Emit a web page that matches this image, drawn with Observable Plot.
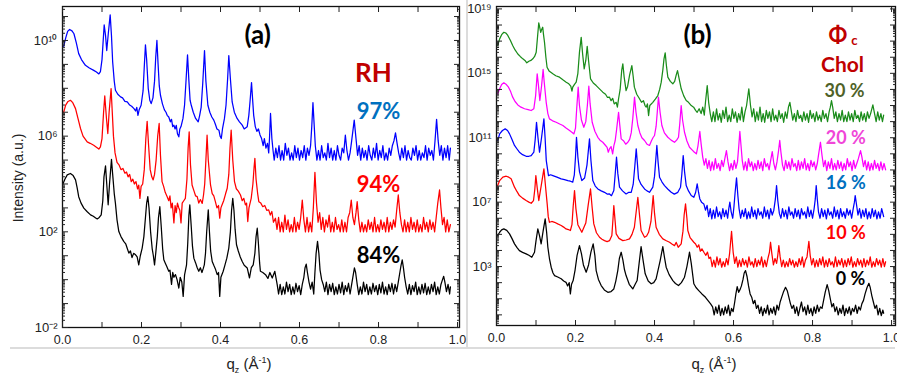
<!DOCTYPE html>
<html><head><meta charset="utf-8">
<script src="https://cdn.jsdelivr.net/npm/d3@7"></script>
<script src="https://cdn.jsdelivr.net/npm/@observablehq/plot@0.6"></script>
<style>
body{margin:0;background:#fff;}
#wrap{position:relative;width:897px;height:379px;overflow:hidden;font-family:"Liberation Sans",Arial,sans-serif;color:#222;}
.panel{position:absolute;top:0;}
.axt{position:absolute;font-size:15px;white-space:nowrap;transform:translate(-50%,-50%);}
.sep{position:absolute;background:#dcdcdc;}
</style></head><body>
<div id="wrap">
  <div class="sep" style="left:10px;top:347px;width:885px;height:1.5px"></div>
  <div class="sep" style="left:466px;top:0;width:1.5px;height:348px"></div>
  <div id="pa" class="panel" style="left:0;width:466px"></div>
  <div id="pb" class="panel" style="left:466px;width:431px"></div>
  <div class="axt" style="left:18px;top:178px;font-size:14px;transform:translate(-50%,-50%) rotate(-90deg)">Intensity (a.u.)</div>
  <div class="axt" style="left:249px;top:365px">q<sub style="font-size:9px">z</sub> (Å<sup style="font-size:9px">-1</sup>)</div>
  <div class="axt" style="left:714px;top:365px">q<sub style="font-size:9px">z</sub> (Å<sup style="font-size:9px">-1</sup>)</div>
</div>
<script>
// ---- tick values ----
const xTicks = [0,0.1,0.2,0.3,0.4,0.5,0.6,0.7,0.8,0.9,1.0];
const xLabels = [0,0.2,0.4,0.6,0.8,1.0];
const yLabelsA = [1e-2,1e2,1e6,1e10];
const yLabelsB = [1e3,1e7,1e11,1e15,1e19];

// ---- panel (a): RH series, flat [q, log10(I)] pairs ----
const a97 = [0.003,9.75,0.008,10.1,0.013,10.38,0.018,10.46,0.024,10.4,0.029,10.28,0.035,9.9,0.041,9.45,0.048,9.2,0.058,8.96,0.068,8.85,0.079,8.75,0.086,8.68,0.092,8.6,0.096,8.7,0.1,9.2,0.1055,10.65,0.109,10.2,0.112,9.58,0.116,10.3,0.1207,11.07,0.124,10.2,0.127,9.1,0.131,8.3,0.134,7.92,0.14,7.75,0.147,7.64,0.152,7.6,0.158,7.45,0.164,7.43,0.17,7.3,0.175,7.25,0.181,7.15,0.185,7.05,0.188,7.2,0.191,6.87,0.194,7.1,0.199,7.29,0.204,7.9,0.207,8.9,0.21,9.82,0.213,9.2,0.217,8.0,0.221,7.5,0.2245,7.36,0.229,7.6,0.233,8.3,0.236,9.3,0.239,10.0,0.242,9.0,0.245,8.1,0.248,7.71,0.253,7.35,0.258,7.1,0.262,7.0,0.265,6.87,0.269,6.8,0.273,6.6,0.276,6.7,0.279,6.4,0.282,6.46,0.285,6.3,0.288,6.45,0.291,6.1,0.2945,5.97,0.297,6.3,0.3,6.4,0.305,6.74,0.309,7.3,0.313,8.4,0.3165,9.4,0.32,8.3,0.323,7.5,0.326,7.29,0.331,7.0,0.337,6.74,0.3435,6.6,0.347,6.85,0.351,7.2,0.355,8.2,0.3595,9.58,0.363,8.3,0.368,7.29,0.373,7.0,0.378,6.8,0.383,6.67,0.387,6.5,0.391,6.3,0.396,6.25,0.399,6.0,0.402,5.9,0.405,6.3,0.41,6.74,0.414,7.3,0.418,8.4,0.421,9.37,0.425,8.4,0.4295,7.43,0.435,7.0,0.442,6.74,0.448,6.6,0.455,6.46,0.46,6.3,0.4675,6.39,0.4717,6.87,0.475,7.5,0.4785,8.24,0.481,7.6,0.484,6.87,0.488,6.4,0.492,6.2,0.496,6.3,0.5,6.05,0.504,5.9,0.508,5.6,0.511,5.9,0.515,5.5,0.519,5.7,0.522,5.3,0.524,5.9,0.5266,6.95,0.53,5.9,0.533,5.4,0.536,5.0,0.54,5.5,0.544,5.1,0.548,5.6,0.552,5.0,0.556,5.4,0.56,5.0,0.564,5.7,0.568,5.2,0.572,5.5,0.576,5.0,0.58,5.3,0.584,5.0,0.588,5.6,0.592,5.1,0.596,5.5,0.6,5.0,0.604,5.4,0.608,5.1,0.612,5.6,0.616,5.0,0.62,5.5,0.624,5.2,0.628,5.6,0.631,6.4,0.634,7.4,0.637,6.5,0.64,5.6,0.644,5.0,0.648,5.4,0.652,5.0,0.656,5.6,0.66,5.1,0.664,5.3,0.668,5.0,0.672,5.7,0.676,5.1,0.68,5.5,0.684,5.0,0.688,5.4,0.692,5.0,0.696,5.6,0.7,5.2,0.704,5.0,0.708,5.5,0.712,5.3,0.716,6.04,0.72,5.4,0.724,5.0,0.728,5.3,0.732,5.8,0.7385,6.67,0.743,5.9,0.747,5.2,0.751,5.6,0.755,5.0,0.759,5.5,0.763,5.1,0.767,5.4,0.771,5.0,0.775,5.6,0.779,5.2,0.783,5.0,0.787,5.5,0.791,5.1,0.795,5.7,0.799,5.0,0.803,5.4,0.807,5.1,0.811,5.6,0.815,5.0,0.819,5.3,0.823,5.0,0.827,5.5,0.831,5.2,0.835,5.6,0.839,5.8,0.843,6.14,0.847,5.7,0.851,5.3,0.855,5.0,0.859,5.5,0.863,5.1,0.867,5.6,0.871,5.0,0.875,5.4,0.879,5.1,0.883,5.0,0.887,5.5,0.891,5.2,0.895,5.6,0.899,5.0,0.903,5.4,0.907,5.0,0.911,5.3,0.915,5.1,0.919,5.6,0.923,5.0,0.927,5.5,0.931,5.2,0.935,5.4,0.939,5.0,0.943,5.8,0.947,6.7,0.951,5.8,0.955,5.2,0.959,5.6,0.963,5.0,0.967,5.5,0.971,5.1,0.975,5.6,0.979,5.0,0.982,5.5];

const a94 = [0.003,7.0,0.008,7.3,0.014,7.45,0.02,7.5,0.026,7.4,0.033,7.15,0.039,6.75,0.0456,6.32,0.052,6.0,0.0625,5.76,0.07,5.7,0.079,5.62,0.085,5.55,0.092,5.46,0.096,5.55,0.1,5.9,0.104,7.0,0.107,7.68,0.111,6.8,0.1147,6.11,0.118,7.0,0.123,7.99,0.126,7.0,0.129,6.0,0.133,5.3,0.138,4.9,0.143,4.8,0.148,4.6,0.153,4.65,0.158,4.45,0.162,4.5,0.166,4.3,0.17,4.4,0.174,4.1,0.178,4.2,0.182,4.0,0.186,4.1,0.19,3.8,0.193,3.95,0.196,3.4,0.199,3.9,0.203,4.0,0.207,4.6,0.211,5.9,0.2143,6.62,0.218,5.6,0.222,4.6,0.226,4.3,0.2295,4.17,0.233,4.4,0.237,5.0,0.241,6.0,0.2447,6.53,0.248,5.2,0.252,4.1,0.256,3.9,0.26,3.65,0.265,3.47,0.269,3.3,0.272,3.5,0.275,3.0,0.278,3.2,0.282,2.37,0.285,3.1,0.288,2.8,0.291,3.2,0.2945,3.0,0.297,2.9,0.3,2.37,0.303,3.2,0.307,3.3,0.311,3.4,0.315,4.2,0.318,5.5,0.3207,6.18,0.324,4.8,0.328,3.96,0.333,3.7,0.337,3.5,0.341,3.47,0.345,3.2,0.349,3.35,0.3537,3.19,0.357,3.54,0.36,4.0,0.363,5.0,0.366,6.04,0.369,5.0,0.3747,3.96,0.379,3.6,0.383,3.5,0.387,3.26,0.391,3.0,0.395,3.1,0.398,2.57,0.401,3.0,0.404,3.13,0.408,3.3,0.413,3.6,0.417,3.82,0.421,4.4,0.424,5.5,0.427,6.25,0.431,5.0,0.4354,4.1,0.44,3.8,0.445,3.7,0.4506,3.54,0.455,3.3,0.459,3.4,0.463,3.13,0.466,3.2,0.469,2.43,0.472,3.0,0.4777,3.4,0.482,4.0,0.485,4.7,0.487,5.07,0.49,4.2,0.494,3.6,0.497,3.26,0.502,3.2,0.507,3.05,0.512,3.1,0.517,2.9,0.522,2.92,0.526,2.7,0.53,2.85,0.534,2.4,0.539,2.57,0.543,2.1,0.547,2.6,0.551,2.0,0.555,2.4,0.559,2.0,0.563,2.7,0.567,2.1,0.571,2.5,0.575,2.0,0.579,2.3,0.583,2.0,0.587,2.6,0.591,2.0,0.595,2.4,0.599,2.1,0.603,2.6,0.607,3.33,0.611,2.5,0.615,2.0,0.619,2.6,0.623,2.0,0.627,2.4,0.631,2.0,0.635,3.0,0.639,4.49,0.643,3.2,0.647,2.4,0.651,2.8,0.655,2.1,0.659,2.6,0.663,2.0,0.667,2.5,0.671,2.2,0.675,2.7,0.679,2.0,0.683,2.4,0.687,2.0,0.691,2.6,0.695,2.1,0.699,2.3,0.703,2.0,0.707,2.5,0.711,2.0,0.715,2.4,0.719,2.0,0.723,2.6,0.727,2.8,0.731,3.33,0.735,2.6,0.739,2.3,0.743,2.8,0.746,3.26,0.75,2.5,0.754,2.0,0.758,2.4,0.762,2.0,0.766,2.3,0.77,2.0,0.774,2.5,0.778,2.1,0.782,2.4,0.786,2.0,0.79,2.6,0.794,2.0,0.798,2.3,0.802,2.0,0.806,2.5,0.81,2.1,0.814,2.4,0.818,2.0,0.822,2.6,0.826,2.0,0.83,2.4,0.834,2.1,0.838,2.5,0.842,2.2,0.846,2.9,0.85,3.54,0.854,2.8,0.858,2.3,0.862,2.0,0.866,2.5,0.87,2.0,0.874,2.4,0.878,2.0,0.882,2.6,0.886,2.1,0.89,2.4,0.894,2.0,0.898,2.5,0.902,2.0,0.906,2.3,0.91,2.0,0.914,2.6,0.918,2.1,0.922,2.4,0.926,2.0,0.93,2.5,0.934,2.1,0.938,2.4,0.942,2.0,0.946,2.6,0.95,3.2,0.9545,3.75,0.958,3.0,0.962,2.3,0.966,2.6,0.97,2.0,0.974,2.5,0.978,2.0,0.982,2.3];

const a84 = [0.0,3.96,0.006,4.2,0.012,4.38,0.02,4.44,0.027,4.35,0.033,4.17,0.037,3.85,0.041,3.47,0.047,3.2,0.054,2.99,0.062,2.85,0.071,2.71,0.078,2.65,0.084,2.58,0.088,2.54,0.093,2.6,0.098,2.71,0.102,3.3,0.105,4.3,0.1089,4.76,0.112,4.0,0.1156,3.13,0.119,4.0,0.124,5.03,0.127,4.4,0.131,3.6,0.134,3.19,0.138,2.5,0.1426,2.01,0.148,1.8,0.155,1.6,0.16,1.5,0.164,1.3,0.168,1.11,0.172,1.2,0.176,0.92,0.18,1.1,0.185,1.04,0.189,0.95,0.193,0.62,0.197,1.0,0.2017,1.32,0.206,1.8,0.21,2.6,0.213,3.2,0.216,3.47,0.219,3.0,0.223,2.0,0.227,1.3,0.23,1.0,0.233,0.62,0.236,1.1,0.24,1.8,0.243,2.6,0.2464,3.05,0.25,2.2,0.2535,1.3,0.2565,0.83,0.26,0.7,0.264,0.55,0.269,0.35,0.272,0.4,0.276,-0.2,0.279,0.3,0.282,0.1,0.286,0.21,0.29,0.0,0.2945,-0.35,0.298,0.1,0.302,-0.1,0.3055,-0.7,0.309,0.2,0.314,0.62,0.317,1.5,0.32,2.7,0.3223,3.13,0.326,2.2,0.329,1.4,0.3325,0.9,0.337,0.7,0.341,0.5,0.345,0.35,0.349,0.5,0.353,0.3,0.356,0.45,0.359,0.62,0.362,1.1,0.365,2.0,0.369,2.92,0.372,2.0,0.375,1.2,0.379,0.76,0.383,0.6,0.387,0.45,0.3916,0.21,0.395,0.3,0.398,-0.7,0.401,0.1,0.4068,0.35,0.411,0.6,0.416,0.9,0.421,1.32,0.425,2.0,0.428,2.9,0.431,3.4,0.434,2.9,0.437,2.1,0.4405,1.46,0.445,1.2,0.45,0.95,0.455,0.76,0.46,0.6,0.4676,0.49,0.4734,0.07,0.478,0.5,0.4828,0.62,0.487,1.1,0.49,1.8,0.493,2.15,0.496,1.5,0.499,0.7,0.501,0.35,0.507,0.3,0.514,0.21,0.52,0.05,0.525,0.3,0.531,0.07,0.5375,0.35,0.5435,-0.21,0.547,-0.6,0.551,-0.2,0.555,-0.63,0.559,-0.3,0.563,-0.6,0.567,-0.1,0.571,-0.5,0.575,-0.2,0.579,-0.63,0.583,-0.3,0.587,-0.6,0.591,-0.15,0.595,-0.5,0.599,-0.25,0.603,-0.63,0.607,-0.2,0.611,0.1,0.614,0.5,0.617,0.65,0.62,0.3,0.624,-0.1,0.628,-0.4,0.632,-0.1,0.636,-0.6,0.639,0.3,0.642,1.1,0.6456,1.6,0.649,1.1,0.652,0.4,0.656,0.0,0.66,-0.2,0.664,-0.5,0.668,-0.1,0.672,-0.63,0.676,-0.2,0.68,-0.5,0.684,-0.15,0.688,-0.63,0.692,-0.3,0.696,-0.6,0.7,-0.2,0.704,-0.55,0.708,-0.1,0.712,-0.63,0.716,-0.25,0.72,-0.5,0.724,-0.15,0.728,-0.6,0.732,-0.2,0.736,0.2,0.739,0.49,0.742,0.3,0.746,-0.2,0.75,-0.63,0.754,-0.3,0.758,-0.6,0.762,-0.1,0.766,-0.5,0.77,-0.2,0.774,-0.63,0.778,-0.3,0.782,-0.6,0.786,-0.15,0.79,-0.5,0.794,-0.25,0.798,-0.63,0.802,-0.2,0.806,-0.55,0.81,-0.1,0.814,-0.6,0.818,-0.3,0.822,-0.63,0.826,-0.2,0.83,-0.5,0.834,-0.15,0.838,-0.6,0.842,-0.2,0.846,-0.5,0.85,-0.1,0.854,0.3,0.857,0.6,0.86,0.83,0.863,0.5,0.866,0.1,0.87,-0.3,0.874,-0.6,0.878,-0.2,0.882,-0.63,0.886,-0.25,0.89,-0.5,0.894,-0.1,0.898,-0.63,0.902,-0.3,0.906,-0.6,0.91,-0.2,0.914,-0.55,0.918,-0.15,0.922,-0.63,0.926,-0.3,0.93,-0.6,0.934,-0.2,0.938,-0.5,0.942,-0.1,0.946,-0.63,0.95,-0.3,0.954,-0.6,0.958,-0.2,0.962,0.0,0.965,0.14,0.968,-0.1,0.972,-0.5,0.976,-0.2,0.98,-0.6,0.982,-0.3];

// ---- panel (b): cholesterol series ----
const b30 = [0.003,16.73,0.008,17.14,0.013,17.4,0.0185,17.55,0.024,17.5,0.0286,17.35,0.035,17.05,0.041,16.73,0.047,16.45,0.054,16.2,0.06,16.05,0.0666,15.9,0.072,15.8,0.0767,15.65,0.082,15.75,0.087,15.8,0.0919,15.9,0.0965,16.05,0.1005,16.31,0.104,17.3,0.107,18.14,0.109,17.9,0.112,17.55,0.114,17.7,0.117,17.86,0.119,17.4,0.1215,16.93,0.125,16.0,0.128,15.38,0.133,15.15,0.1426,14.97,0.15,14.85,0.1595,14.76,0.168,14.6,0.1764,14.45,0.183,14.35,0.188,14.2,0.191,13.9,0.193,14.14,0.197,14.3,0.2017,14.45,0.206,15.0,0.21,16.3,0.2144,17.24,0.218,16.2,0.222,15.28,0.226,15.8,0.2296,16.68,0.233,15.8,0.238,14.66,0.245,14.4,0.2524,14.24,0.26,14.05,0.269,13.83,0.276,13.7,0.281,13.5,0.286,13.52,0.29,13.3,0.294,13.45,0.298,13.1,0.303,13.2,0.306,12.9,0.309,13.42,0.313,14.0,0.317,15.2,0.3198,15.59,0.323,14.8,0.328,13.93,0.332,14.2,0.337,14.9,0.3426,15.48,0.346,14.8,0.349,14.14,0.355,13.7,0.362,13.42,0.367,13.2,0.372,13.3,0.376,13.0,0.379,12.9,0.382,13.1,0.385,12.38,0.388,13.0,0.3957,13.2,0.402,13.4,0.4084,13.62,0.413,14.0,0.417,14.45,0.421,15.2,0.424,15.9,0.427,16.27,0.43,15.5,0.4337,14.76,0.44,14.5,0.4463,14.35,0.451,14.5,0.455,14.9,0.4582,15.17,0.462,14.7,0.4676,14.04,0.474,13.6,0.4802,13.31,0.486,13.2,0.493,13.0,0.499,12.9,0.504,12.7,0.508,12.58,0.513,12.8,0.518,12.5,0.522,12.9,0.526,12.4,0.529,13.2,0.5334,14.24,0.537,13.2,0.541,12.5,0.545,12.0,0.549,12.6,0.553,12.0,0.557,12.8,0.561,12.1,0.565,12.5,0.569,11.96,0.573,12.7,0.577,12.2,0.581,12.9,0.585,12.0,0.589,12.4,0.593,12.0,0.597,12.8,0.601,12.2,0.605,12.6,0.609,11.96,0.613,12.5,0.617,12.1,0.621,12.9,0.625,12.0,0.629,12.6,0.633,13.0,0.6387,14.04,0.643,13.0,0.647,12.3,0.651,12.8,0.655,12.0,0.659,12.6,0.663,12.1,0.667,12.9,0.671,12.0,0.675,12.5,0.679,11.96,0.683,12.7,0.687,12.2,0.691,12.6,0.695,12.0,0.699,12.8,0.703,12.1,0.707,12.4,0.711,12.0,0.715,12.7,0.719,12.2,0.723,12.5,0.727,11.96,0.731,12.6,0.735,12.2,0.739,12.9,0.7426,13.2,0.746,12.7,0.75,12.1,0.754,12.5,0.758,12.0,0.762,12.7,0.766,12.2,0.77,12.4,0.774,12.0,0.778,12.6,0.782,12.1,0.786,12.5,0.79,11.96,0.794,12.7,0.798,12.2,0.802,12.5,0.806,12.0,0.81,12.6,0.814,12.1,0.818,12.4,0.822,12.0,0.826,12.7,0.83,12.2,0.834,12.5,0.838,12.0,0.842,12.6,0.845,12.9,0.848,13.31,0.851,12.9,0.855,12.2,0.859,12.6,0.863,12.0,0.867,12.5,0.871,12.1,0.875,12.7,0.879,12.0,0.883,12.4,0.887,12.0,0.891,12.6,0.895,12.1,0.899,12.5,0.903,12.0,0.907,12.7,0.911,12.2,0.915,12.4,0.919,12.0,0.923,12.6,0.927,12.1,0.931,12.5,0.935,12.0,0.939,12.6,0.943,12.2,0.947,12.5,0.9527,13.04,0.957,12.5,0.961,12.0,0.965,12.6,0.969,12.1,0.973,12.5,0.977,12.0,0.98,12.4];

const b20 = [0.003,13.73,0.008,14.04,0.013,14.3,0.0185,14.41,0.025,14.3,0.0304,14.14,0.036,13.85,0.041,13.52,0.047,13.25,0.054,13.04,0.062,12.9,0.071,12.8,0.08,12.75,0.0878,12.69,0.0945,12.8,0.099,13.6,0.103,14.97,0.106,14.3,0.1097,13.31,0.114,14.2,0.118,15.24,0.121,14.4,0.1258,13.2,0.13,12.5,0.134,12.17,0.142,12.05,0.151,11.96,0.16,11.85,0.168,11.76,0.176,11.6,0.185,11.45,0.19,11.35,0.196,11.24,0.2,11.6,0.203,12.8,0.2068,14.14,0.21,13.0,0.215,12.1,0.221,11.65,0.226,12.0,0.23,13.0,0.2337,14.2,0.237,13.1,0.2422,11.96,0.249,11.4,0.2565,11.03,0.262,10.85,0.269,10.72,0.275,10.55,0.28,10.4,0.283,10.1,0.286,10.31,0.29,10.45,0.294,10.0,0.297,10.5,0.3005,10.83,0.304,11.5,0.309,12.58,0.312,11.8,0.3156,10.93,0.322,10.8,0.327,10.6,0.3325,10.72,0.337,10.9,0.341,11.3,0.345,12.2,0.3494,13.52,0.353,12.6,0.3578,11.76,0.363,11.3,0.368,11.0,0.3747,10.83,0.381,10.6,0.3873,10.52,0.392,10.8,0.396,11.0,0.4,11.14,0.404,11.7,0.407,12.6,0.41,13.52,0.414,12.6,0.4186,11.76,0.425,11.3,0.4337,11.03,0.442,10.85,0.4506,10.72,0.456,10.85,0.4607,11.03,0.464,11.9,0.4675,13.0,0.471,12.1,0.4759,11.34,0.482,10.8,0.4886,10.41,0.495,10.25,0.501,10.1,0.506,10.0,0.51,10.5,0.5147,11.39,0.518,10.6,0.522,9.8,0.526,9.3,0.53,9.7,0.534,9.1,0.538,9.6,0.542,8.96,0.546,9.5,0.55,9.0,0.554,9.7,0.558,9.1,0.562,9.4,0.566,8.96,0.57,9.6,0.574,9.2,0.578,9.7,0.582,10.2,0.586,9.5,0.59,8.96,0.594,9.4,0.598,9.0,0.602,9.6,0.606,9.1,0.61,9.5,0.613,10.4,0.616,11.39,0.619,10.5,0.622,9.6,0.626,9.0,0.63,9.5,0.634,8.96,0.638,9.7,0.642,9.2,0.646,9.5,0.65,8.96,0.654,9.4,0.658,9.0,0.662,9.6,0.666,9.1,0.67,9.5,0.674,8.96,0.678,9.7,0.682,9.2,0.686,9.4,0.69,9.0,0.694,9.6,0.698,10.14,0.702,9.4,0.706,9.0,0.71,9.5,0.714,10.2,0.717,10.83,0.72,10.1,0.724,9.3,0.728,8.96,0.732,9.6,0.736,9.1,0.74,9.5,0.744,9.0,0.748,9.7,0.752,9.2,0.756,9.4,0.76,8.96,0.764,9.6,0.768,9.0,0.772,9.5,0.776,9.1,0.78,9.7,0.784,9.0,0.788,9.4,0.792,8.96,0.796,9.6,0.8,9.2,0.804,9.5,0.808,9.0,0.812,9.4,0.815,9.9,0.82,10.72,0.824,9.9,0.828,9.2,0.832,9.6,0.836,8.96,0.84,9.5,0.844,9.1,0.848,9.7,0.852,9.0,0.856,9.4,0.86,9.0,0.864,9.6,0.868,9.1,0.872,9.5,0.876,8.96,0.88,9.4,0.884,9.0,0.888,9.7,0.892,9.2,0.896,9.5,0.9,8.96,0.904,9.6,0.908,9.1,0.912,9.4,0.916,9.7,0.9215,10.2,0.925,9.8,0.929,9.2,0.933,9.6,0.937,9.0,0.941,9.5,0.945,8.96,0.949,9.4,0.953,9.0,0.957,9.6,0.961,9.1,0.965,9.4,0.969,8.96,0.973,9.5,0.977,9.0,0.981,9.4,0.985,9.0];

const b16 = [0.003,10.83,0.008,11.24,0.015,11.45,0.022,11.55,0.028,11.45,0.033,11.24,0.039,10.9,0.0456,10.52,0.052,10.3,0.058,10.1,0.066,9.95,0.075,9.85,0.082,9.85,0.0878,9.89,0.0945,10.1,0.098,10.9,0.1013,11.96,0.105,11.0,0.1089,10.1,0.114,11.0,0.12,12.17,0.123,11.0,0.126,9.58,0.1316,8.65,0.137,8.7,0.1426,8.65,0.153,8.55,0.1637,8.45,0.172,8.4,0.1806,8.34,0.187,8.3,0.193,8.24,0.197,8.7,0.2,9.8,0.2025,11.03,0.206,9.8,0.21,8.9,0.216,8.34,0.223,8.5,0.229,9.3,0.2354,10.93,0.239,9.6,0.2438,8.34,0.25,8.0,0.2565,7.82,0.265,7.7,0.2734,7.61,0.28,7.5,0.286,7.51,0.291,7.4,0.297,7.72,0.3,8.6,0.3038,9.79,0.307,8.8,0.3114,7.93,0.319,7.7,0.328,7.51,0.334,7.6,0.341,7.61,0.346,8.1,0.35,9.2,0.3537,10.31,0.357,9.3,0.3595,8.45,0.366,8.1,0.3747,7.82,0.381,7.7,0.3873,7.61,0.3957,7.93,0.4,8.6,0.4059,10.52,0.409,9.5,0.4127,8.55,0.419,8.25,0.4253,8.03,0.434,7.8,0.4423,7.61,0.45,7.5,0.459,7.61,0.4658,7.93,0.469,8.7,0.4726,9.89,0.476,8.9,0.4802,8.03,0.486,7.7,0.4929,7.41,0.4995,7.3,0.504,7.6,0.508,8.14,0.5115,7.6,0.5147,7.2,0.519,7.0,0.5248,6.89,0.529,6.5,0.533,6.8,0.537,6.1,0.541,6.6,0.545,5.96,0.549,6.5,0.553,6.0,0.557,6.7,0.561,6.1,0.565,6.4,0.569,5.96,0.573,6.6,0.577,6.1,0.581,6.5,0.585,6.0,0.588,6.6,0.5907,7.0,0.594,6.4,0.598,6.0,0.601,6.7,0.604,7.6,0.6076,8.51,0.611,7.4,0.614,6.6,0.618,6.0,0.622,6.5,0.626,6.1,0.63,6.6,0.634,5.96,0.638,6.4,0.642,6.0,0.646,6.7,0.65,6.1,0.654,6.5,0.658,5.96,0.662,6.6,0.666,6.2,0.67,6.4,0.674,6.0,0.678,6.7,0.682,6.1,0.686,6.5,0.69,5.96,0.694,6.6,0.698,6.2,0.702,6.5,0.706,7.2,0.7089,8.03,0.712,7.1,0.716,6.3,0.72,6.0,0.724,6.6,0.728,6.1,0.732,6.5,0.736,5.96,0.74,6.7,0.744,6.2,0.748,6.4,0.752,6.0,0.756,6.6,0.76,6.1,0.764,6.5,0.768,5.96,0.772,6.6,0.776,6.2,0.78,6.4,0.784,6.0,0.788,6.7,0.792,6.1,0.796,6.5,0.8,6.0,0.804,6.6,0.807,7.2,0.8093,8.03,0.812,7.2,0.815,6.4,0.819,6.0,0.823,6.6,0.827,6.1,0.831,6.5,0.835,5.96,0.839,6.6,0.843,6.2,0.847,6.4,0.851,6.0,0.855,6.7,0.859,6.1,0.863,6.5,0.867,5.96,0.871,6.6,0.875,6.1,0.879,6.4,0.883,6.0,0.887,6.6,0.891,6.2,0.895,6.5,0.899,6.0,0.903,6.6,0.906,7.0,0.908,7.41,0.911,6.9,0.915,6.2,0.919,6.6,0.923,6.0,0.927,6.5,0.931,6.1,0.935,6.6,0.939,5.96,0.943,6.4,0.947,6.0,0.951,6.6,0.955,6.1,0.959,6.5,0.963,5.96,0.967,6.4,0.971,6.0,0.975,6.6,0.98,6.1];

const b10 = [0.003,8.03,0.008,8.34,0.016,8.55,0.0245,8.61,0.031,8.55,0.037,8.45,0.041,8.2,0.0456,7.93,0.052,7.65,0.058,7.41,0.066,7.25,0.075,7.1,0.082,7.0,0.0878,6.93,0.0937,7.1,0.097,7.8,0.0996,8.65,0.103,7.9,0.107,7.1,0.113,8.0,0.12,9.07,0.124,8.0,0.1283,6.89,0.131,6.1,0.134,5.75,0.14,5.8,0.147,5.75,0.155,5.65,0.1637,5.55,0.17,5.45,0.176,5.34,0.182,5.3,0.187,5.24,0.191,5.6,0.194,6.7,0.1975,7.72,0.201,6.6,0.206,5.6,0.216,5.13,0.226,5.7,0.232,6.8,0.238,7.82,0.242,6.7,0.2463,5.65,0.253,5.1,0.2608,4.82,0.267,4.7,0.2734,4.61,0.28,4.55,0.286,4.61,0.292,4.93,0.295,6.0,0.297,6.79,0.3,5.9,0.303,5.03,0.31,4.75,0.3198,4.61,0.328,4.65,0.3367,4.72,0.343,5.0,0.349,5.44,0.354,6.5,0.3578,7.3,0.362,6.2,0.366,5.24,0.3747,4.82,0.38,4.9,0.385,5.13,0.391,5.8,0.3966,7.41,0.4,6.3,0.404,5.44,0.412,5.0,0.421,4.72,0.43,4.6,0.438,4.51,0.444,4.4,0.4506,4.3,0.455,4.5,0.46,4.2,0.4675,4.41,0.472,5.2,0.475,6.2,0.4785,6.89,0.482,6.0,0.4843,5.24,0.49,4.8,0.4995,4.51,0.504,4.4,0.508,4.2,0.512,4.35,0.516,3.95,0.52,4.1,0.525,3.89,0.53,3.7,0.534,3.9,0.538,3.5,0.5418,3.58,0.546,3.0,0.55,3.4,0.554,2.96,0.558,3.6,0.562,3.1,0.566,3.5,0.57,2.96,0.574,3.3,0.578,3.0,0.582,3.5,0.586,3.1,0.59,3.8,0.595,5.19,0.599,3.9,0.603,3.2,0.607,3.6,0.611,2.96,0.615,3.4,0.619,3.0,0.623,3.5,0.627,3.1,0.631,3.4,0.635,2.96,0.639,3.6,0.643,3.1,0.647,3.3,0.651,2.96,0.655,3.5,0.659,3.0,0.663,3.4,0.667,3.1,0.671,3.6,0.675,2.96,0.679,3.4,0.683,3.0,0.687,3.5,0.691,3.9,0.6937,4.51,0.697,3.8,0.701,3.1,0.705,3.5,0.709,3.2,0.712,3.7,0.7147,4.3,0.718,3.6,0.722,3.0,0.726,3.4,0.73,2.96,0.734,3.3,0.738,3.0,0.742,3.5,0.746,3.1,0.75,3.4,0.754,2.96,0.758,3.3,0.762,3.0,0.766,3.5,0.77,3.1,0.774,3.6,0.778,2.96,0.782,3.4,0.786,3.6,0.7907,4.57,0.794,3.7,0.798,3.1,0.802,3.5,0.806,2.96,0.81,3.4,0.814,3.0,0.818,3.5,0.822,3.1,0.826,3.6,0.83,2.96,0.834,3.4,0.838,3.0,0.842,3.5,0.846,3.1,0.85,3.3,0.854,2.96,0.858,3.6,0.862,3.0,0.866,3.4,0.87,3.1,0.874,3.5,0.878,2.96,0.882,3.4,0.886,3.0,0.89,3.5,0.894,3.1,0.898,3.6,0.902,2.96,0.906,3.3,0.91,3.0,0.914,3.5,0.918,3.1,0.922,3.4,0.926,2.96,0.93,3.5,0.934,3.0,0.938,3.4,0.942,3.1,0.946,3.6,0.95,2.96,0.954,3.3,0.958,3.0,0.962,3.5,0.966,3.1,0.97,3.4,0.974,2.96,0.978,3.5,0.982,3.0,0.985,3.3];

const b0 = [0.003,4.93,0.008,5.13,0.013,5.28,0.0185,5.34,0.026,5.25,0.033,5.03,0.039,4.75,0.0456,4.41,0.052,4.18,0.058,3.99,0.066,3.88,0.075,3.79,0.082,3.7,0.0894,3.58,0.0962,3.89,0.1,4.6,0.1046,5.34,0.109,4.9,0.113,4.41,0.118,5.2,0.1232,5.96,0.127,5.1,0.13,4.2,0.134,3.5,0.1384,2.96,0.143,2.6,0.147,2.44,0.155,2.35,0.1637,2.24,0.17,2.1,0.176,2.02,0.18,1.8,0.184,2.0,0.187,1.3,0.19,1.9,0.194,2.13,0.199,2.8,0.204,3.7,0.21,4.3,0.215,3.8,0.22,3.1,0.227,2.65,0.233,3.1,0.239,3.9,0.2447,4.41,0.249,3.7,0.2523,2.75,0.258,2.2,0.265,1.82,0.273,1.55,0.2818,1.4,0.29,1.45,0.297,1.61,0.302,2.1,0.307,2.75,0.311,3.5,0.3156,3.89,0.32,3.4,0.324,2.8,0.328,2.44,0.336,1.9,0.345,1.61,0.351,1.9,0.356,2.13,0.361,3.2,0.366,4.24,0.371,3.4,0.3764,2.55,0.384,2.1,0.3916,1.93,0.398,2.0,0.404,2.24,0.4143,3.37,0.421,4.24,0.425,3.6,0.4295,2.96,0.437,2.5,0.4464,2.13,0.453,1.95,0.4607,1.82,0.468,2.0,0.4759,2.34,0.482,3.0,0.4886,3.89,0.493,3.2,0.4995,1.93,0.505,1.7,0.512,1.51,0.52,1.3,0.529,1.09,0.535,0.9,0.542,0.68,0.547,0.5,0.551,0.0,0.555,0.5,0.559,0.1,0.563,0.6,0.567,-0.04,0.571,0.4,0.575,0.0,0.579,0.5,0.583,0.1,0.587,0.6,0.591,-0.04,0.595,0.4,0.599,0.2,0.603,0.8,0.606,1.3,0.6093,1.76,0.613,1.4,0.617,1.6,0.62,1.8,0.624,2.2,0.627,2.6,0.6304,2.75,0.634,2.4,0.638,1.8,0.642,1.3,0.646,1.1,0.65,0.7,0.654,0.9,0.658,0.4,0.662,0.6,0.666,0.1,0.67,0.5,0.674,-0.04,0.678,0.4,0.682,0.1,0.686,0.6,0.69,0.0,0.694,0.4,0.698,0.1,0.702,0.5,0.706,0.0,0.71,0.6,0.714,0.3,0.718,0.8,0.722,1.1,0.726,1.4,0.7316,1.71,0.736,1.5,0.74,1.1,0.744,0.7,0.748,0.4,0.752,0.6,0.756,0.1,0.76,0.5,0.764,-0.04,0.768,0.4,0.772,0.8,0.776,0.2,0.78,0.5,0.784,0.0,0.788,0.6,0.792,0.1,0.796,0.4,0.8,-0.04,0.804,0.5,0.808,0.1,0.812,0.6,0.816,0.2,0.82,0.5,0.824,0.4,0.828,0.9,0.832,1.4,0.837,1.88,0.841,1.5,0.845,1.0,0.849,0.5,0.853,0.7,0.857,0.2,0.861,0.5,0.865,0.0,0.869,0.4,0.873,0.1,0.877,0.6,0.881,-0.04,0.885,0.4,0.889,0.1,0.893,0.5,0.897,0.0,0.901,0.4,0.905,0.2,0.909,0.6,0.913,0.1,0.917,0.5,0.921,0.3,0.925,0.7,0.929,0.9,0.933,1.3,0.938,1.7,0.9426,1.96,0.946,1.7,0.95,1.2,0.954,0.8,0.958,0.4,0.962,0.6,0.966,0.0,0.97,0.4,0.974,-0.04,0.978,0.3,0.98,0.1];

// ---- series styling & annotations ----
const seriesA = [{d:a97,c:"#0000ff"},{d:a94,c:"#ff0000"},{d:a84,c:"#000000"}];
const seriesB = [{d:b30,c:"#1a8c1a"},{d:b20,c:"#ff00ff"},{d:b16,c:"#0000ff"},{d:b10,c:"#ff0000"},{d:b0,c:"#000000"}];
const notesA = [
  {t:"(a)",q:0.494,L:10.21,c:"#000000",s:26},
  {t:"RH",q:0.787,L:8.63,c:"#c00000",s:26},
  {t:"97%",q:0.80,L:7.0,c:"#0070c0",s:22},
  {t:"94%",q:0.80,L:3.96,c:"#ff0000",s:22},
  {t:"84%",q:0.80,L:1.0,c:"#000000",s:22}
];
const notesB = [
  {t:"(b)",q:0.509,L:17.35,c:"#000000",s:26},
  {t:"Φ",q:0.864,L:17.35,c:"#c00000",s:22},
  {t:"c",q:0.906,L:17.0,c:"#c00000",s:13},
  {t:"Chol",q:0.876,L:15.5,c:"#c00000",s:21},
  {t:"30 %",q:0.881,L:13.87,c:"#4f6228",s:18},
  {t:"20 %",q:0.884,L:10.98,c:"#f046d8",s:18},
  {t:"16 %",q:0.884,L:8.16,c:"#0070c0",s:18},
  {t:"10 %",q:0.884,L:5.05,c:"#ff0000",s:18},
  {t:"0 %",q:0.896,L:2.22,c:"#000000",s:18}
];

// ---- helpers ----
const toPts = arr => { const o = []; for (let i = 0; i < arr.length; i += 2) o.push({q: arr[i], I: Math.pow(10, arr[i+1])}); return o; };
const SUP = {"0":"⁰","1":"¹","2":"²","3":"³","4":"⁴","5":"⁵","6":"⁶","7":"⁷","8":"⁸","9":"⁹","-":"⁻"};
const supFmt = d => "10" + String(Math.round(Math.log10(d))).split("").map(ch => SUP[ch]).join("");
function logTicks(lo, hi) {
  const major = [], minor = [];
  for (let k = Math.floor(lo); k <= Math.ceil(hi); k++) {
    const v = Math.pow(10, k);
    if (k >= lo - 1e-9 && k <= hi) major.push(v);
    for (let m = 2; m <= 9; m++) { const w = m * v; const lw = Math.log10(w); if (lw >= lo && lw <= hi) minor.push(w); }
  }
  return {major, minor};
}
const blank = () => "";

function makePanel({series, xMax, yLo, yHi, width, mL, mR, mB, yLabels, notes, minorLen}) {
  const t = logTicks(yLo, yHi);
  return Plot.plot({
    width, height: 379, marginLeft: mL, marginRight: mR, marginTop: 6, marginBottom: mB,
    style: {fontFamily: "'Liberation Sans', Arial, sans-serif", fontSize: "12.5px", color: "#222", background: "transparent", overflow: "visible"},
    x: {domain: [0, xMax], label: null},
    y: {type: "log", domain: [Math.pow(10, yLo), Math.pow(10, yHi)], label: null},
    color: {type: "identity"},
    marks: [
      ...series.map(s => Plot.line(toPts(s.d), {x: "q", y: "I", stroke: s.c, strokeWidth: 1.25, clip: true})),
      Plot.frame({stroke: "#111", strokeWidth: 1.3}),
      Plot.axisX(xTicks, {anchor: "bottom", tickSize: 5, dy: -5, tickFormat: blank, label: null}),
      Plot.axisX(xTicks, {anchor: "top", tickSize: 5, dy: 5, tickFormat: blank, label: null}),
      Plot.axisX(xLabels, {anchor: "bottom", tickSize: 0, tickPadding: 8, tickFormat: d3.format(".1f"), label: null}),
      Plot.axisY(t.major, {anchor: "left", tickSize: 6, dx: 6, tickFormat: blank, label: null}),
      Plot.axisY(t.major, {anchor: "right", tickSize: 6, dx: -6, tickFormat: blank, label: null}),
      Plot.axisY(t.minor, {anchor: "left", tickSize: minorLen, dx: minorLen, tickFormat: blank, label: null}),
      Plot.axisY(t.minor, {anchor: "right", tickSize: minorLen, dx: -minorLen, tickFormat: blank, label: null}),
      Plot.axisY(yLabels, {anchor: "left", tickSize: 0, tickPadding: 5, tickFormat: supFmt, label: null, fontSize: 13}),
      Plot.text(notes, {x: "q", y: d => Math.pow(10, d.L), text: "t", fill: "c", fontSize: "s", fontWeight: "bold",
        fontFamily: "Lato, 'Open Sans', 'DejaVu Sans', sans-serif", textAnchor: "middle", lineAnchor: "middle"})
    ]
  });
}

document.getElementById("pa").append(makePanel({
  series: seriesA, xMax: 1.005, yLo: -2, yHi: 11.42, width: 466, mL: 62, mR: 7, mB: 52,
  yLabels: yLabelsA, notes: notesA, minorLen: 3
}));
document.getElementById("pb").append(makePanel({
  series: seriesB, xMax: 1.01, yLo: -0.66, yHi: 19.15, width: 431, mL: 30, mR: 2, mB: 54,
  yLabels: yLabelsB, notes: notesB, minorLen: 3
}));
</script>
</body></html>
